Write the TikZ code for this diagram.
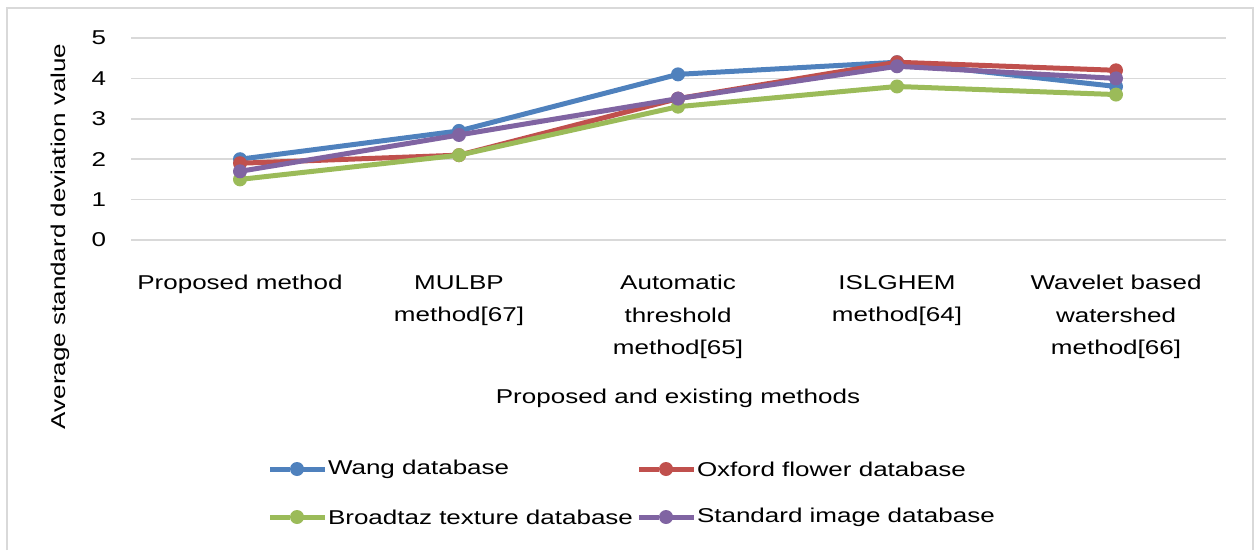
\documentclass[tikz,border=0pt]{standalone}
\usepackage{fontspec}
\setmainfont[FakeStretch=1.3]{Liberation Sans}
\usetikzlibrary{positioning}

\definecolor{wangblue}{HTML}{4F81BD}
\definecolor{oxfordred}{HTML}{C0504D}
\definecolor{broadgreen}{HTML}{9BBB59}
\definecolor{standardviolet}{HTML}{8064A2}
\definecolor{gridgray}{HTML}{D9D9D9}

\begin{document}
\begin{tikzpicture}[x=1pt,y=1pt]
  \tikzset{FrameStyle/.style = {
    draw          = gridgray,
    line width    = 1.5pt
    }
  }
  \tikzset{GridStyle/.style = {
    draw          = gridgray,
    line width    = 1.5pt
    }
  }
  \tikzset{TextStyle/.style = {
    font          = \fontsize{20}{32.5}\selectfont,
    text          = black,
    inner sep     = 0pt,
    outer sep     = 0pt
    }
  }
  \tikzset{TickStyle/.style = {
    TextStyle,
    anchor        = east
    }
  }
  \tikzset{CatStyle/.style = {
    TextStyle,
    align         = center,
    anchor        = north
    }
  }
  \tikzset{SeriesMark/.style = {
    shape         = circle,
    fill          = #1,
    draw          = none,
    minimum size  = 14pt,
    inner sep     = 0pt,
    outer sep     = 0pt
    }
  }
  \tikzset{SeriesLine/.style = {
    draw          = #1,
    line width    = 5pt,
    line join     = round,
    shorten >=-1pt, shorten <=-1pt
    }
  }

  \useasboundingbox (0,0) rectangle (1255,550);
  \draw[FrameStyle] (7,0) -- (7,542) -- (1253,542) -- (1253,0);

  % grid and value axis
  \draw[GridStyle] (131,310) -- (1226,310);
  \draw[GridStyle] (131,350.4) -- (1226,350.4);
  \draw[GridStyle] (131,390.8) -- (1226,390.8);
  \draw[GridStyle] (131,431.2) -- (1226,431.2);
  \draw[GridStyle] (131,471.6) -- (1226,471.6);
  \draw[GridStyle] (131,512) -- (1226,512);
  \node[TickStyle](t0) at (106,310) {0};
  \node[TickStyle](t1) at (106,350.4) {1};
  \node[TickStyle](t2) at (106,390.8) {2};
  \node[TickStyle](t3) at (106,431.2) {3};
  \node[TickStyle](t4) at (106,471.6) {4};
  \node[TickStyle](t5) at (106,512) {5};

  % categories
  \node[CatStyle](c1) at (240,274.5) {Proposed method};
  \node[CatStyle](c2) at (459,274.5) {MULBP\\method[67]};
  \node[CatStyle](c3) at (678,274.5) {Automatic\\threshold\\method[65]};
  \node[CatStyle](c4) at (897,274.5) {ISLGHEM\\method[64]};
  \node[CatStyle](c5) at (1116,274.5) {Wavelet based\\watershed\\method[66]};

  \node[TextStyle](xtitle) at (678,152) {Proposed and existing methods};
  \node[TextStyle, rotate=90, anchor=base](ytitle) at (65,313.5) {Average standard deviation value};

  % Wang database
  \node[SeriesMark=wangblue](w1) at (240,390.8) {};
  \node[SeriesMark=wangblue](w2) at (459,419.08) {};
  \node[SeriesMark=wangblue](w3) at (678,475.64) {};
  \node[SeriesMark=wangblue](w4) at (897,487.76) {};
  \node[SeriesMark=wangblue](w5) at (1116,463.52) {};
  \draw[SeriesLine=wangblue](w1) to (w2);
  \draw[SeriesLine=wangblue](w2) to (w3);
  \draw[SeriesLine=wangblue](w3) to (w4);
  \draw[SeriesLine=wangblue](w4) to (w5);

  % Oxford flower database
  \node[SeriesMark=oxfordred](o1) at (240,386.76) {};
  \node[SeriesMark=oxfordred](o2) at (459,394.84) {};
  \node[SeriesMark=oxfordred](o3) at (678,451.4) {};
  \node[SeriesMark=oxfordred](o4) at (897,487.76) {};
  \node[SeriesMark=oxfordred](o5) at (1116,479.68) {};
  \draw[SeriesLine=oxfordred](o1) to (o2);
  \draw[SeriesLine=oxfordred](o2) to (o3);
  \draw[SeriesLine=oxfordred](o3) to (o4);
  \draw[SeriesLine=oxfordred](o4) to (o5);

  % Broadtaz texture database
  \node[SeriesMark=broadgreen](b1) at (240,370.6) {};
  \node[SeriesMark=broadgreen](b2) at (459,394.84) {};
  \node[SeriesMark=broadgreen](b3) at (678,443.32) {};
  \node[SeriesMark=broadgreen](b4) at (897,463.52) {};
  \node[SeriesMark=broadgreen](b5) at (1116,455.44) {};
  \draw[SeriesLine=broadgreen](b1) to (b2);
  \draw[SeriesLine=broadgreen](b2) to (b3);
  \draw[SeriesLine=broadgreen](b3) to (b4);
  \draw[SeriesLine=broadgreen](b4) to (b5);

  % Standard image database
  \node[SeriesMark=standardviolet](s1) at (240,378.68) {};
  \node[SeriesMark=standardviolet](s2) at (459,415.04) {};
  \node[SeriesMark=standardviolet](s3) at (678,451.4) {};
  \node[SeriesMark=standardviolet](s4) at (897,483.72) {};
  \node[SeriesMark=standardviolet](s5) at (1116,471.6) {};
  \draw[SeriesLine=standardviolet](s1) to (s2);
  \draw[SeriesLine=standardviolet](s2) to (s3);
  \draw[SeriesLine=standardviolet](s3) to (s4);
  \draw[SeriesLine=standardviolet](s4) to (s5);

  % legend
  \node[SeriesMark=wangblue](lw) at (297,81) {};
  \draw[SeriesLine=wangblue] (lw.west) -- ++(-20,0) (lw.east) -- ++(20,0);
  \node[TextStyle, right=24pt of lw](lwt) {Wang database};
  \node[SeriesMark=oxfordred](lo) at (666,81) {};
  \draw[SeriesLine=oxfordred] (lo.west) -- ++(-20,0) (lo.east) -- ++(20,0);
  \node[TextStyle, right=24pt of lo](lot) {Oxford flower database};
  \node[SeriesMark=broadgreen](lb) at (297,33) {};
  \draw[SeriesLine=broadgreen] (lb.west) -- ++(-20,0) (lb.east) -- ++(20,0);
  \node[TextStyle, right=24pt of lb](lbt) {Broadtaz texture database};
  \node[SeriesMark=standardviolet](ls) at (666,33) {};
  \draw[SeriesLine=standardviolet] (ls.west) -- ++(-20,0) (ls.east) -- ++(20,0);
  \node[TextStyle, right=24pt of ls](lst) {Standard image database};

\end{tikzpicture}
\end{document}
